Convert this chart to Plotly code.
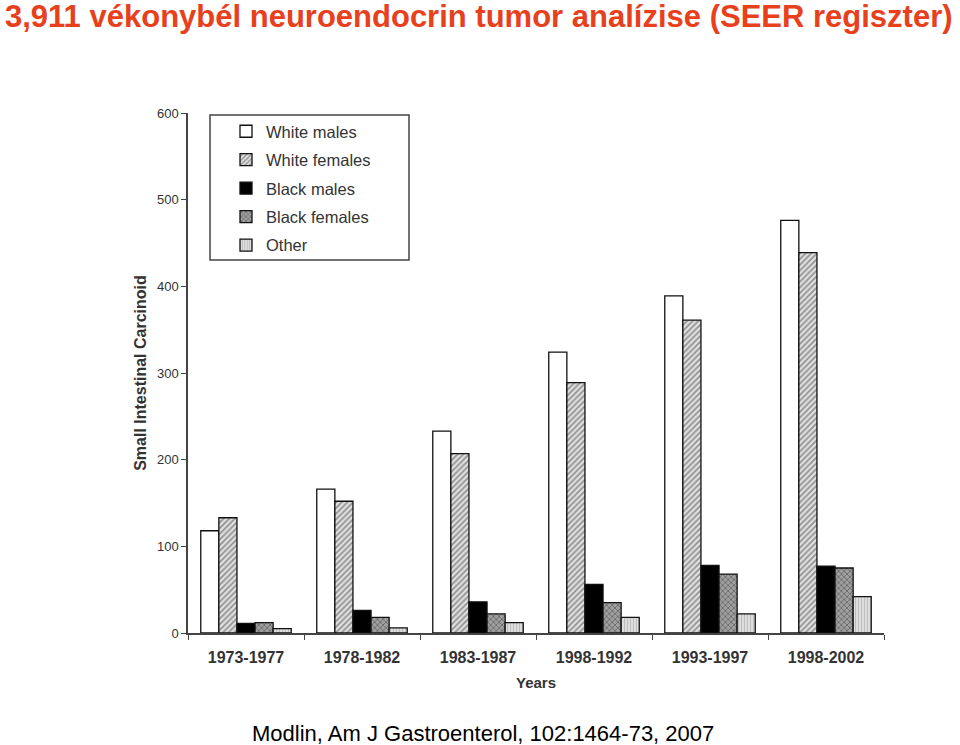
import plotly.graph_objects as go

categories = ["1973-1977", "1978-1982", "1983-1987", "1998-1992", "1993-1997", "1998-2002"]
white_males = [118, 166, 233, 324, 389, 476]
white_females = [133, 152, 207, 289, 361, 439]
black_males = [11, 26, 36, 56, 78, 77]
black_females = [12, 18, 22, 35, 68, 75]
other = [5, 6, 12, 18, 22, 42]

series = [
    ("White males", white_males, dict(color="white")),
    ("White females", white_females, dict(color="white", pattern=dict(shape="/", fgcolor="#444444", bgcolor="#e0e0e0", size=4, solidity=0.45))),
    ("Black males", black_males, dict(color="black")),
    ("Black females", black_females, dict(color="#777777", pattern=dict(shape="x", fgcolor="#333333", bgcolor="#a0a0a0", size=4, solidity=0.4))),
    ("Other", other, dict(color="#cccccc", pattern=dict(shape="|", fgcolor="#999999", bgcolor="#dddddd", size=3, solidity=0.3))),
]

W, H = 960, 745
L, T, R, B = 188, 113, 76, 112  # plot area: x 188..884, y 113..633
PW, PH = W - L - R, H - T - B

fig = go.Figure()
for i, (name, vals, mk) in enumerate(series):
    marker = dict(mk)
    marker["line"] = dict(color="#111111", width=1.3)
    fig.add_trace(go.Bar(name=name, x=categories, y=vals, marker=marker, legendgroup=str(i)))

def px_x(page_x):
    return (page_x - L) / PW

def px_y(page_y):
    return 1 - (page_y - T) / PH

fig.update_layout(
    width=W, height=H,
    paper_bgcolor="white", plot_bgcolor="white",
    margin=dict(l=L, r=R, t=T, b=B),
    barmode="group", bargap=0.22, bargroupgap=0,
    font=dict(family="Liberation Sans, Arial, sans-serif", color="#333333"),
    showlegend=True,
    legend=dict(x=px_x(226), y=px_y(114), xanchor="left", yanchor="top",
                borderwidth=0, bgcolor="rgba(0,0,0,0)",
                font=dict(size=16.5, color="#333333"),
                tracegroupgap=4, itemwidth=30,
                traceorder="grouped"),
    xaxis=dict(showline=True, linecolor="#444444", linewidth=1.5,
               ticks="outside", tickson="boundaries", ticklen=5, tickcolor="#444444",
               ticklabelstandoff=9,
               tickfont=dict(size=16, color="#333333", weight="bold"),
               title=dict(text="<b>Years</b>", font=dict(size=15, color="#333333"), standoff=13),
               showgrid=False),
    yaxis=dict(range=[0, 600], dtick=100, showline=True, linecolor="#444444", linewidth=1.5,
               ticks="outside", ticklen=5, tickcolor="#444444",
               tickfont=dict(size=13, color="#333333"),
               title=dict(text="<b>Small Intestinal Carcinoid</b>", font=dict(size=16, color="#333333"), standoff=6),
               showgrid=False, zeroline=False),
    shapes=[
        dict(type="rect", xref="paper", yref="paper",
             x0=px_x(210), x1=px_x(409), y0=px_y(260), y1=px_y(115),
             line=dict(color="#444444", width=1.5), fillcolor="rgba(0,0,0,0)", layer="above"),
    ],
    annotations=[
        dict(text="<b>3,911 vékonybél neuroendocrin tumor analízise (SEER regiszter)</b>",
             x=0, y=1, xref="paper", yref="paper", xanchor="left", yanchor="top",
             xshift=-L + 3, yshift=T + 3, showarrow=False,
             font=dict(size=31, color="#E8401C", family="Liberation Sans, Arial")),
        dict(text="Modlin, Am J Gastroenterol, 102:1464-73, 2007",
             x=0, y=0, xref="paper", yref="paper", xanchor="center", yanchor="middle",
             xshift=(483 - L), yshift=-(733 - (T + PH)), showarrow=False,
             font=dict(size=22, color="black", family="Liberation Sans, Arial")),
    ],
)
fig.write_html("out.html", config={"displayModeBar": False},
               post_script="document.body.style.margin='0';document.body.style.overflow='hidden';")
